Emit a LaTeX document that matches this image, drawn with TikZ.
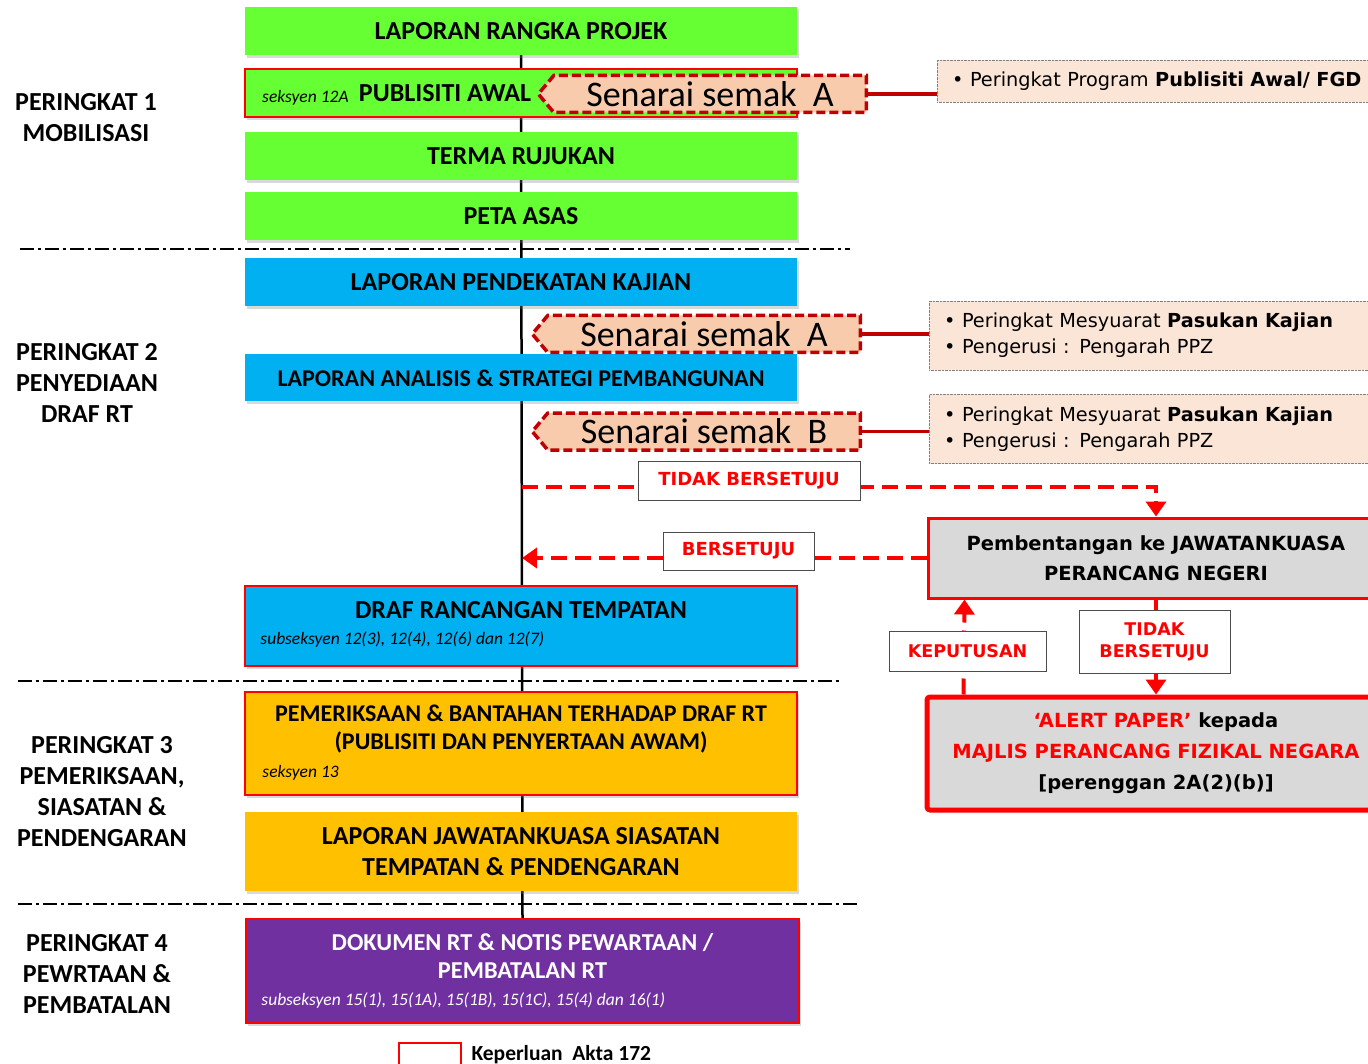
\documentclass[tikz,border=0pt]{standalone}
\usepackage{fontspec}
\setmainfont{Carlito}
\newfontfamily\tahoma{DejaVu Sans}
\usetikzlibrary{positioning,calc,arrows.meta,shapes.symbols,shadows,backgrounds}
\definecolor{ijau}{HTML}{66FF33}
\definecolor{biru}{HTML}{00B0F0}
\definecolor{jingga}{HTML}{FFC000}
\definecolor{ungu}{HTML}{7030A0}
\definecolor{merahtua}{HTML}{C00000}
\definecolor{pic}{HTML}{F8CBAD}
\definecolor{picmuda}{HTML}{FBE5D6}
\definecolor{kelabu}{HTML}{D9D9D9}
\newcommand{\fsz}[2]{\fontsize{#1}{#2}\selectfont}
\tikzset{
    block/.style = {rectangle, minimum width=552, minimum height=48,
        inner sep=0pt, align=center, font=\bfseries\fsz{26}{28},
        drop shadow={shadow xshift=2pt, shadow yshift=-3pt, opacity=.3}},
    akta/.style = {draw=red, line width=1.5pt},
    semak/.style = {signal, signal to=west, signal from=nowhere,
        signal pointer angle=100, draw=merahtua, fill=pic,
        line width=3.5pt, dash pattern=on 9pt off 4pt,
        minimum width=328, minimum height=37, inner sep=0pt,
        font=\fsz{36}{36}, anchor=east},
    info/.style = {rectangle, draw=gray, densely dotted, fill=picmuda,
        anchor=west, inner xsep=15pt, align=left,
        font=\tahoma\fsz{19.3}{26}},
    hubung/.style = {draw=merahtua, line width=3.5pt},
    putus/.style = {draw=red, line width=4pt, dash pattern=on 16pt off 8pt,
        -{Triangle[length=15pt,width=20pt]}},
    tanda/.style = {draw=black!70, fill=white, thin, text=red, align=center,
        font=\tahoma\bfseries\fsz{18}{22}},
    peringkat/.style = {align=center, font=\bfseries\fsz{26}{31}},
    garis/.style = {line width=1.5pt, dash pattern=on 14pt off 4pt on 3pt off 4pt},
    sub/.style = {anchor=west, inner sep=0pt, font=\itshape\fsz{17.5}{17.5}}
}
\begin{document}
\begin{tikzpicture}[x=1pt, y=-1pt]
\useasboundingbox (0,0) rectangle (1368,1064);
% peringkat 1
\node [block, fill=ijau] (lrp) at (521,31) {LAPORAN RANGKA PROJEK};
\node [block, fill=ijau, akta] (pa) at (521,93) {};
\node [sub] (s12a) at (262,98) {seksyen 12A};
\node [font=\bfseries\fsz{26}{26}] (pat) at (445,93) {PUBLISITI AWAL};
\node [block, fill=ijau] (tr) at (521,156) {TERMA RUJUKAN};
\node [block, fill=ijau] (peta) at (521,216) {PETA ASAS};
% peringkat 2
\node [block, fill=biru] (lpk) at (521,282) {LAPORAN PENDEKATAN KAJIAN};
\node [block, fill=biru, minimum height=47, font=\bfseries\fsz{24}{24}] (las) at (521,378)
    {LAPORAN ANALISIS \& STRATEGI PEMBANGUNAN};
\node [block, fill=biru, akta, minimum height=80] (drt) at (521,626) {};
\node [font=\bfseries\fsz{26}{26}] (drtt) at ($(drt.north)+(0,25)$) {DRAF RANCANGAN TEMPATAN};
\node [sub] (sdrt) at ($(drt.west)+(16,14)$) {subseksyen 12(3), 12(4), 12(6) dan 12(7)};
% peringkat 3
\node [block, fill=jingga, akta, minimum height=103] (pem) at (521,743.5) {};
\node [font=\bfseries\fsz{24}{28}, align=center] (pemt) at ($(pem.north)+(0,38)$)
    {PEMERIKSAAN \& BANTAHAN TERHADAP DRAF RT\\(PUBLISITI DAN PENYERTAAN AWAM)};
\node [sub] (spem) at ($(pem.west)+(18,29.5)$) {seksyen 13};
\node [block, fill=jingga, minimum height=79, font=\bfseries\fsz{26}{31}] (ljs) at (521,851.5)
    {LAPORAN JAWATANKUASA SIASATAN\\TEMPATAN \& PENDENGARAN};
% peringkat 4
\node [block, fill=ungu, akta, minimum width=553, minimum height=104] (dok) at (522.5,971) {};
\node [font=\bfseries\fsz{24.3}{28}, align=center, text=white] (dokt) at ($(dok.north)+(0,38)$)
    {DOKUMEN RT \& NOTIS PEWARTAAN /\\PEMBATALAN RT};
\node [sub, text=white] (sdok) at ($(dok.west)+(16,30)$)
    {subseksyen 15(1), 15(1A), 15(1B), 15(1C), 15(4) dan 16(1)};
% tulang belakang
\begin{scope}[on background layer]
    \draw [line width=2.5pt] (lrp.south) -- (dok.north);
    \draw [garis] (20,249) -- (850,249);
    \draw [garis] (18,681) -- (840,681);
    \draw [garis] (18,904) -- (860,904);
\end{scope}
% senarai semak
\node [semak] (sa1) at (868,94) {Senarai semak \ A};
\node [semak] (sa2) at (862,334) {Senarai semak \ A};
\node [semak] (sb) at (862,431.5) {Senarai semak \ B};
\node [info, minimum height=42, text width=423] (inf1) at (937,81)
    {\textbullet\ Peringkat Program \textbf{Publisiti Awal/ FGD}};
\node [info, minimum height=69, text width=431] (inf2) at (929,335.5)
    {\textbullet\ Peringkat Mesyuarat \textbf{Pasukan Kajian}\\\textbullet\ Pengerusi : Pengarah PPZ};
\node [info, minimum height=69, text width=431] (inf3) at (929,429)
    {\textbullet\ Peringkat Mesyuarat \textbf{Pasukan Kajian}\\\textbullet\ Pengerusi : Pengarah PPZ};
\draw [hubung] (sa1.east) -- (sa1.east -| inf1.west);
\draw [hubung] (sa2.east) -- (sa2.east -| inf2.west);
\draw [hubung] (sb.east) -- (sb.east -| inf3.west);
% jawatankuasa
\node [rectangle, fill=kelabu, draw=red, line width=3pt, minimum width=456, minimum height=80,
    align=center, font=\tahoma\bfseries\fsz{19.5}{30}] (pjn) at (1156,558)
    {Pembentangan ke JAWATANKUASA\\PERANCANG NEGERI};
\node [rectangle, fill=kelabu, draw=red, line width=5pt, rounded corners=3pt,
    minimum width=458, minimum height=113, align=center,
    font=\tahoma\bfseries\fsz{19.5}{31}] (alert) at (1156,753.5)
    {\textcolor{red}{‘ALERT PAPER’} kepada\\\textcolor{red}{MAJLIS PERANCANG FIZIKAL NEGARA}\\{[}perenggan 2A(2)(b){]}};
\coordinate (cTB) at (522,487);
\coordinate (cB) at (522,558);
\draw [putus] (cTB) -- (cTB -| pjn.north) -- (pjn.north);
\draw [putus] (pjn.west) -- (cB);
\draw [putus] ($(alert.north west)+(39,0)$) -- ($(pjn.south west)+(38,0)$);
\draw [putus] (pjn.south) -- (alert.north);
\node [tanda, minimum width=222, minimum height=39] (ltb) at (749,480.5) {TIDAK BERSETUJU};
\node [tanda, minimum width=151, minimum height=38] (lb) at (738.5,551) {BERSETUJU};
\node [tanda, minimum width=157, minimum height=40, font=\tahoma\bfseries\fsz{17.5}{22}] (lk) at (967.5,651) {KEPUTUSAN};
\node [tanda, minimum width=151, minimum height=63, font=\tahoma\bfseries\fsz{17.5}{22}] (ltb2) at (1154.5,641.5) {TIDAK\\BERSETUJU};
% peringkat
\node [peringkat] (p1) at (86,117.5) {PERINGKAT 1\\MOBILISASI};
\node [peringkat] (p2) at (87,382.5) {PERINGKAT 2\\PENYEDIAAN\\DRAF RT};
\node [peringkat] (p3) at (102,791.5) {PERINGKAT 3\\PEMERIKSAAN,\\SIASATAN \&\\PENDENGARAN};
\node [peringkat] (p4) at (97,973.5) {PERINGKAT 4\\PEWRTAAN \&\\PEMBATALAN};
% petunjuk
\node [draw=red, line width=2pt, minimum width=62, minimum height=32, anchor=north west] (leg) at (398,1042) {};
\node [anchor=base west, font=\bfseries\fsz{21.5}{21.5}] (legt) at (468,1060) {Keperluan \ Akta 172};
\end{tikzpicture}
\end{document}
